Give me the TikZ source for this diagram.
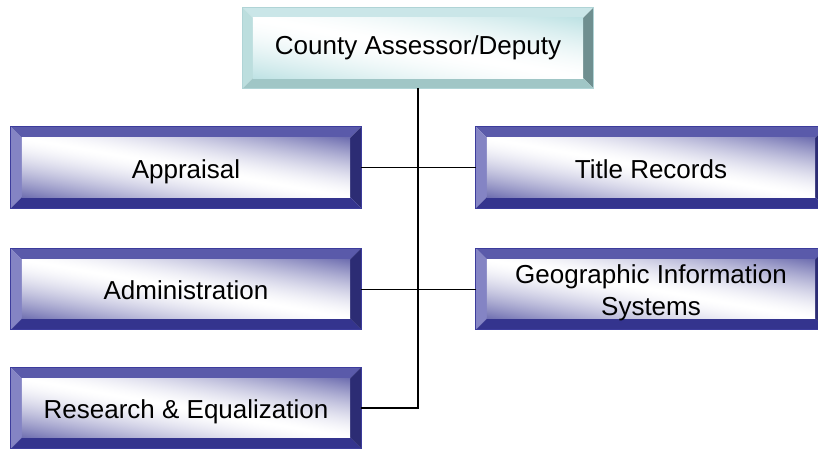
\documentclass[tikz,border=0pt]{standalone}
\usepackage{fontspec}
\setmainfont{Liberation Sans}
\usetikzlibrary{calc,backgrounds}

% bevel palettes: top, left, right, bottom, edge
\definecolor{navytop}{HTML}{5A5AAA}
\definecolor{navyleft}{HTML}{8484C4}
\definecolor{navyright}{HTML}{2C2C74}
\definecolor{navybottom}{HTML}{34348E}
\definecolor{navyedge}{HTML}{3C3C9C}
\definecolor{tealtop}{HTML}{CAE6E8}
\definecolor{tealleft}{HTML}{BCDEDE}
\definecolor{tealright}{HTML}{6F8F90}
\definecolor{tealbottom}{HTML}{A0C6C6}
\definecolor{tealedge}{HTML}{B0D4D6}

% faces: white along one diagonal, tinted towards the other two corners
% (navy tint 6E6EB0, teal tint BEE2E4)
\pgfdeclarefunctionalshading{navyshade}{\pgfpoint{-50bp}{-50bp}}{\pgfpoint{50bp}{50bp}}{}{
  add 50 div abs dup 1 gt {pop 1} if dup sqrt mul dup dup
  0.569 mul 1 exch sub 3 1 roll 0.569 mul 1 exch sub exch 0.310 mul 1 exch sub}
\pgfdeclarefunctionalshading{tealshade}{\pgfpoint{-50bp}{-50bp}}{\pgfpoint{50bp}{50bp}}{}{
  add 50 div abs dup 1 gt {pop 1} if dup sqrt mul dup dup
  0.255 mul 1 exch sub 3 1 roll 0.114 mul 1 exch sub exch 0.106 mul 1 exch sub}

\tikzset{
  unit/.style={minimum width=350pt, minimum height=81pt, inner sep=0pt,
    align=center, font=\fontsize{26}{32}\selectfont,
    text height=21pt, text depth=0pt},
  link/.style={line width=1.3pt, black}
}

\begin{document}
\begin{tikzpicture}[x=1pt,y=1pt]
\clip (0,0) rectangle (818,448);

% Offices
\node[unit, minimum height=80pt, text height=18pt, text depth=5pt] (chief) at (418,400) {County Assessor/Deputy};
\node[unit] (appraisal) at (186,280.5) {Appraisal};
\node[unit] (title) at (651,280.5) {Title Records};
\node[unit] (admin) at (186,159) {Administration};
\node[unit, text height=53pt] (gis) at (651,159) {Geographic Information\\Systems};
\node[unit] (research) at (186,40) {Research \& Equalization};

% Bevelled frames behind the text
\begin{pgfonlayer}{background}
\foreach \n/\pal/\b in {chief/teal/10,appraisal/navy/11,title/navy/11,admin/navy/11,gis/navy/11,research/navy/11}{
  \fill[\pal top] (\n.north west) -- (\n.north east) -- ++(-\b,-\b) -- ($(\n.north west)+(\b,-\b)$) -- cycle;
  \fill[\pal left] (\n.north west) -- ++(\b,-\b) -- ($(\n.south west)+(\b,\b)$) -- (\n.south west) -- cycle;
  \fill[\pal right] (\n.north east) -- ++(-\b,-\b) -- ($(\n.south east)+(-\b,\b)$) -- (\n.south east) -- cycle;
  \fill[\pal bottom] (\n.south west) -- ++(\b,\b) -- ($(\n.south east)+(-\b,\b)$) -- (\n.south east) -- cycle;
  \shade[shading=\pal shade] ($(\n.north west)+(\b,-\b)$) rectangle ($(\n.south east)+(-\b,\b)$);
  \draw[\pal edge, line width=0.8pt] (\n.north west) rectangle (\n.south east);
}
\end{pgfonlayer}

% Reporting lines
\draw[link] (chief.south) -- (chief.south |- research.east) -- (research.east);
\draw[link, line width=1pt] (appraisal.east) -- (title.west);
\draw[link, line width=1pt] (admin.east) -- (gis.west);

\end{tikzpicture}
\end{document}
